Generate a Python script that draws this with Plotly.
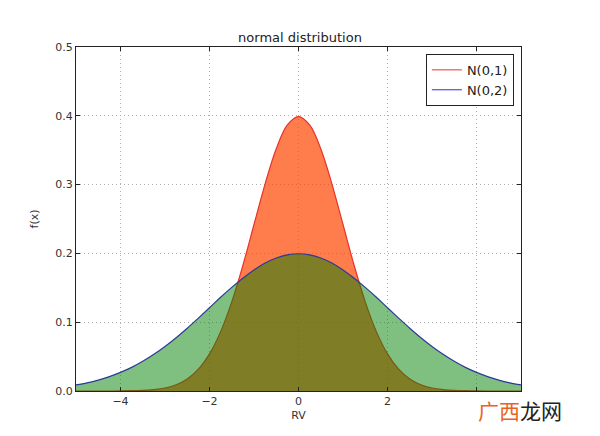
import plotly.graph_objects as go

x_vals = [-5.0, -4.75, -4.5, -4.25, -4.0, -3.75, -3.5, -3.25, -3.0, -2.75, -2.5, -2.25, -2.0,
          -1.75, -1.5, -1.25, -1.0, -0.75, -0.5, -0.25, 0.0, 0.25, 0.5, 0.75, 1.0, 1.25, 1.5,
          1.75, 2.0, 2.25, 2.5, 2.75, 3.0, 3.25, 3.5, 3.75, 4.0, 4.25, 4.5, 4.75, 5.0]
n01_vals = [0.0, 0.0, 0.0, 0.0, 0.0001, 0.0004, 0.0009, 0.002, 0.0044, 0.0091, 0.0175, 0.0317,
            0.054, 0.0863, 0.1295, 0.1826, 0.242, 0.3011, 0.3521, 0.3867, 0.3989, 0.3867, 0.3521,
            0.3011, 0.242, 0.1826, 0.1295, 0.0863, 0.054, 0.0317, 0.0175, 0.0091, 0.0044, 0.002,
            0.0009, 0.0004, 0.0001, 0.0, 0.0, 0.0, 0.0]
n02_vals = [0.0088, 0.0119, 0.0159, 0.0209, 0.027, 0.0343, 0.0431, 0.0533, 0.0648, 0.0775,
            0.0913, 0.106, 0.121, 0.1363, 0.1506, 0.164, 0.176, 0.186, 0.1933, 0.1979, 0.1995,
            0.1979, 0.1933, 0.186, 0.176, 0.164, 0.1506, 0.1363, 0.121, 0.106, 0.0913, 0.0775,
            0.0648, 0.0533, 0.0431, 0.0343, 0.027, 0.0209, 0.0159, 0.0119, 0.0088]
series_names = ["N(0,1)", "N(0,2)"]
x_ticks = [-4, -2, 0, 2, 4]
x_tick_labels = ["\u22124", "\u22122", "0", "2", ""]  # "4" is hidden under the watermark
y_ticks = [0.0, 0.1, 0.2, 0.3, 0.4, 0.5]

font = "DejaVu Sans"
red_line = "#e8322a"
blue_line = "#2b3a9a"
fig = go.Figure()
fig.add_trace(go.Scatter(x=x_vals, y=n01_vals, name=series_names[0], mode="lines",
                         line=dict(color=red_line, width=1.2, shape="spline"),
                         fill="tozeroy", fillcolor="rgba(255,69,0,0.7)", showlegend=False))
fig.add_trace(go.Scatter(x=x_vals, y=n02_vals, name=series_names[1], mode="lines",
                         line=dict(color=blue_line, width=1.2, shape="spline"),
                         fill="tozeroy", fillcolor="rgba(0,128,0,0.5)", showlegend=False))
# legend entries (line only)
fig.add_trace(go.Scatter(x=[None], y=[None], name=series_names[0], mode="lines",
                         line=dict(color="#f05050", width=1.2)))
fig.add_trace(go.Scatter(x=[None], y=[None], name=series_names[1], mode="lines",
                         line=dict(color="#5050e0", width=1.2)))

axis_common = dict(showline=True, linecolor="#222", linewidth=1, mirror="ticks",
                   ticks="inside", ticklen=4, tickcolor="#222",
                   showgrid=True, gridcolor="#b0b0b0", griddash="1px,3px", gridwidth=1,
                   zeroline=False, tickfont=dict(family=font, size=11, color="#333"))
fig.update_xaxes(range=[-5, 5], tickvals=x_ticks, ticktext=x_tick_labels,
                 title=dict(text="RV", font=dict(family=font, size=11, color="#333"), standoff=4),
                 **axis_common)
fig.update_yaxes(range=[0, 0.5], tickvals=y_ticks, tickformat=".1f",
                 title=dict(text="f(x)", font=dict(family=font, size=11, color="#333"), standoff=14),
                 **axis_common)

fig.update_layout(
    width=600, height=436,
    margin=dict(l=76, r=79, t=47, b=45),
    paper_bgcolor="white", plot_bgcolor="white",
    title=dict(text="normal distribution", x=0.5, xanchor="center", y=1 - 37 / 436,
               yanchor="middle", font=dict(family=font, size=13, color="#222")),
    legend=dict(x=0.984, y=0.98, xanchor="right", yanchor="top", bgcolor="white",
                bordercolor="#222", borderwidth=1, font=dict(family=font, size=13, color="#222")),
    showlegend=True,
)
fig.add_annotation(xref="paper", yref="paper", x=(520 - 76) / 445, y=(391 - 410) / 344,
                   text="<span style='color:#e8641e'>广西</span><span style='color:#222'>龙网</span>",
                   showarrow=False, xanchor="center", yanchor="middle",
                   font=dict(family="Noto Sans CJK SC", size=21))
fig.write_html("out.html")
